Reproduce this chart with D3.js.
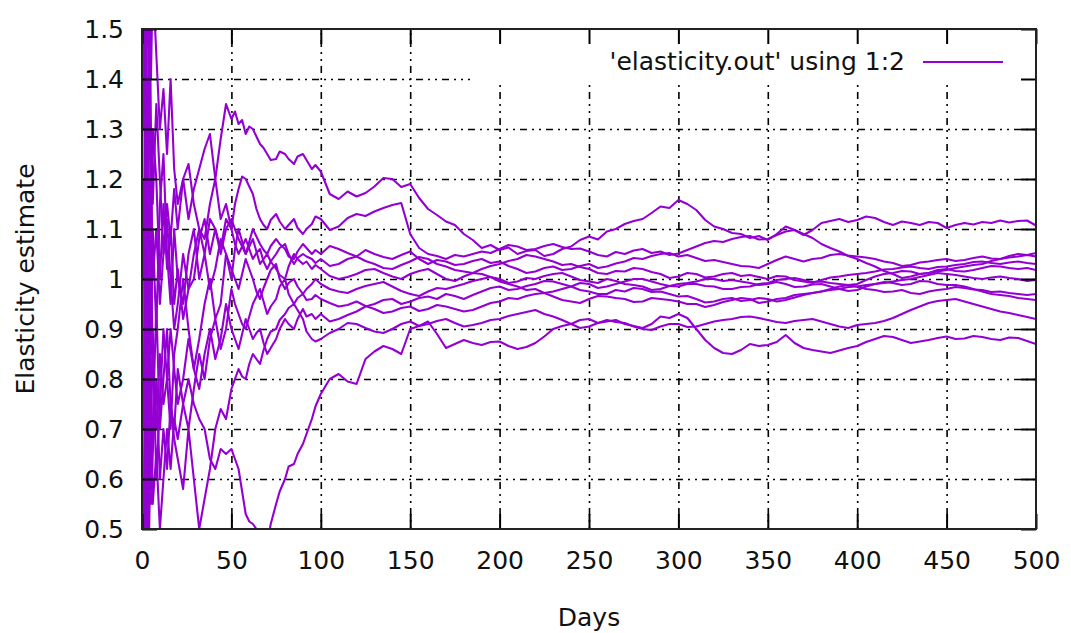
<!DOCTYPE html>
<html>
<head>
<meta charset="utf-8">
<script src="https://cdn.jsdelivr.net/npm/d3@7"></script>
<style>
  body { margin: 0; background: #fff; }
  svg text { font-family: "DejaVu Sans", Verdana, sans-serif; fill: #111; }
</style>
</head>
<body>
<div id="chart"></div>
<script>
// sample days (x) shared by every run
const days = [1, 2, 3, 4, 5, 6, 8, 10, 12, 14, 16, 18, 20, 23, 26, 29, 32, 35, 38, 41, 44, 47, 50,
  52, 54, 56, 58, 60, 62, 64, 66, 68, 70, 72, 75, 77, 80, 82, 85, 87, 90, 92, 95, 97,
  100, 105, 110, 115, 120, 125, 130, 135, 140,
  145, 150, 155, 160, 165, 170, 175, 180, 185,
  190, 195, 200, 205, 210, 215, 220, 225, 230,
  235, 240, 245, 250, 255, 260, 265, 270, 275,
  280, 285, 290, 295, 300, 305, 310, 315, 320,
  325, 330, 335, 340, 345, 350, 355, 360, 365,
  370, 375, 380, 385, 390, 395, 400, 405, 410,
  415, 420, 425, 430, 435, 440, 445, 450, 455,
  460, 465, 470, 475, 480, 485, 490, 495, 500];

// elasticity estimate of each run
const run1 = [1.9, 1.2, 1.6, 1.45, 1.05, 1.3, 1.2, 1.0, 1.15, 1.02, 1.1, 0.95, 1.02, 0.92, 0.98, 1.05, 1.1, 1.08, 1.15, 1.2, 1.28, 1.35, 1.32,
  1.335, 1.31, 1.318, 1.29, 1.305, 1.3, 1.285, 1.27, 1.262, 1.25, 1.238, 1.24, 1.255, 1.25, 1.24, 1.23, 1.245, 1.25, 1.238, 1.22, 1.228,
  1.215, 1.17, 1.16, 1.175, 1.165, 1.172, 1.185, 1.202, 1.2,
  1.184, 1.19, 1.162, 1.14, 1.128, 1.115, 1.108, 1.09, 1.078,
  1.062, 1.068, 1.058, 1.063, 1.05, 1.056, 1.058, 1.046, 1.05,
  1.06, 1.065, 1.078, 1.085, 1.079, 1.095, 1.1, 1.11, 1.116,
  1.12, 1.132, 1.145, 1.142, 1.158, 1.15, 1.138, 1.118, 1.105,
  1.1, 1.092, 1.09, 1.082, 1.086, 1.078, 1.09, 1.105, 1.098,
  1.088, 1.098, 1.112, 1.116, 1.12, 1.114, 1.118, 1.125, 1.122,
  1.114, 1.108, 1.115, 1.112, 1.108, 1.114, 1.112, 1.102, 1.108,
  1.112, 1.109, 1.114, 1.112, 1.117, 1.113, 1.116, 1.117, 1.107];
const run2 = [1.3, 1.75, 1.9, 1.55, 1.4, 1.6, 1.45, 1.3, 1.38, 1.25, 1.4, 1.22, 1.15, 1.2, 1.12, 1.18, 1.22, 1.26, 1.29, 1.2, 1.12, 1.15, 1.1,
  1.15, 1.18, 1.205, 1.2, 1.185, 1.17, 1.14, 1.12, 1.108, 1.1, 1.118, 1.13, 1.115, 1.1, 1.108, 1.12, 1.102, 1.09, 1.1, 1.11, 1.125,
  1.12, 1.098, 1.105, 1.122, 1.13, 1.126, 1.135, 1.142, 1.148,
  1.152, 1.09, 1.062, 1.05, 1.046, 1.04, 1.048, 1.045, 1.05,
  1.055, 1.052, 1.06, 1.068, 1.065, 1.058, 1.06, 1.066, 1.07,
  1.064, 1.06, 1.061, 1.055, 1.048, 1.045, 1.054, 1.05, 1.057,
  1.06, 1.052, 1.055, 1.048, 1.051, 1.058, 1.065, 1.072, 1.076,
  1.074, 1.08, 1.084, 1.086, 1.079, 1.08, 1.088, 1.095, 1.098,
  1.09, 1.082, 1.07, 1.062, 1.055, 1.046, 1.04, 1.032, 1.025,
  1.016, 1.01, 1.002, 1.005, 1.01, 1.012, 1.015, 1.018, 1.022,
  1.025, 1.028, 1.03, 1.036, 1.04, 1.046, 1.05, 1.048, 1.052];
const run3 = [0.7, 1.5, 1.1, 1.7, 1.3, 1.15, 1.35, 1.2, 1.05, 1.15, 1.08, 1.18, 1.1, 1.2, 1.23, 1.15, 1.1, 1.05, 1.12, 1.1, 1.05, 1.1, 1.12,
  1.1, 1.08, 1.065, 1.05, 1.075, 1.1, 1.085, 1.07, 1.058, 1.05, 1.066, 1.08, 1.07, 1.06, 1.045, 1.04, 1.055, 1.07, 1.062, 1.05, 1.058,
  1.05, 1.066, 1.06, 1.052, 1.045, 1.058, 1.05, 1.044, 1.04,
  1.048, 1.055, 1.04, 1.03, 1.038, 1.035, 1.028, 1.03, 1.036,
  1.04, 1.032, 1.035, 1.026, 1.02, 1.012, 1.015, 1.022, 1.025,
  1.018, 1.02, 1.026, 1.03, 1.022, 1.025, 1.031, 1.035, 1.042,
  1.04, 1.046, 1.05, 1.052, 1.045, 1.048, 1.042, 1.036, 1.038,
  1.034, 1.03, 1.026, 1.025, 1.022, 1.03, 1.038, 1.045, 1.04,
  1.035, 1.04, 1.042, 1.048, 1.05, 1.047, 1.045, 1.043, 1.04,
  1.035, 1.032, 1.026, 1.028, 1.033, 1.035, 1.038, 1.04, 1.036,
  1.038, 1.042, 1.045, 1.041, 1.04, 1.043, 1.045, 1.048, 1.045];
const run4 = [1.6, 0.8, 1.4, 0.9, 1.25, 1.0, 1.1, 0.95, 1.05, 1.12, 1.0, 0.9, 0.95, 1.05, 0.98, 1.0, 1.08, 1.12, 1.05, 1.1, 1.06, 1.12, 1.1,
  1.07, 1.05, 1.065, 1.08, 1.06, 1.04, 1.052, 1.06, 1.035, 1.02, 1.035, 1.05, 1.062, 1.07, 1.05, 1.03, 1.042, 1.05, 1.045, 1.04, 1.032,
  1.04, 1.026, 1.03, 1.04, 1.045, 1.036, 1.03, 1.022, 1.02,
  1.028, 1.035, 1.044, 1.04, 1.03, 1.025, 1.018, 1.015, 1.012,
  1.02, 1.026, 1.03, 1.036, 1.04, 1.048, 1.045, 1.04, 1.035,
  1.028, 1.03, 1.024, 1.02, 1.012, 1.01, 1.016, 1.015, 1.022,
  1.02, 1.014, 1.01, 1.002, 1.005, 1.012, 1.01, 1.003, 1.005,
  1.01, 1.012, 1.006, 1.008, 1.004, 1.0, 1.006, 1.005, 0.998,
  0.995, 0.992, 0.998, 1.003, 1.005, 1.008, 1.01, 1.012, 1.015,
  1.019, 1.02, 1.023, 1.025, 1.022, 1.02, 1.024, 1.025, 1.028,
  1.03, 1.034, 1.035, 1.032, 1.03, 1.033, 1.035, 1.032, 1.03];
const run5 = [0.4, 0.9, 0.6, 0.75, 1.1, 0.8, 0.7, 0.85, 0.75, 0.8, 0.9, 0.82, 0.75, 0.8, 0.88, 0.82, 0.78, 0.85, 0.9, 0.84, 0.88, 0.95, 0.9,
  0.88, 0.86, 0.89, 0.92, 0.9, 0.88, 0.892, 0.9, 0.872, 0.85, 0.862, 0.88, 0.9, 0.92, 0.91, 0.9, 0.92, 0.94, 0.925, 0.93, 0.92,
  0.93, 0.915, 0.92, 0.928, 0.935, 0.945, 0.95, 0.958, 0.96,
  0.95, 0.955, 0.962, 0.965, 0.96, 0.97, 0.966, 0.96, 0.968,
  0.975, 0.982, 0.985, 0.978, 0.98, 0.986, 0.99, 0.996, 0.995,
  0.99, 0.985, 0.978, 0.975, 0.97, 0.97, 0.978, 0.975, 0.982,
  0.98, 0.974, 0.975, 0.97, 0.965, 0.966, 0.96, 0.953, 0.955,
  0.96, 0.962, 0.956, 0.958, 0.962, 0.96, 0.955, 0.958, 0.963,
  0.968, 0.972, 0.975, 0.98, 0.985, 0.988, 0.99, 0.998, 1.005,
  1.01, 1.012, 1.016, 1.015, 1.01, 1.012, 1.018, 1.02, 1.016,
  1.015, 1.018, 1.022, 1.026, 1.025, 1.022, 1.02, 1.022, 1.018];
const run6 = [1.0, 1.4, 0.7, 1.2, 0.85, 1.1, 0.9, 1.15, 1.25, 1.05, 0.95, 1.1, 1.0, 0.95, 1.05, 1.1, 1.0, 1.05, 0.98, 1.02, 1.08, 1.05, 1.0,
  1.06, 1.1, 1.075, 1.05, 1.065, 1.08, 1.055, 1.03, 1.04, 1.05, 1.035, 1.02, 1.008, 1.0, 1.025, 1.05, 1.04, 1.03, 1.035, 1.02, 1.028,
  1.02, 1.006, 1.0, 1.004, 1.01, 1.018, 1.02, 1.012, 1.005,
  1.0, 1.01, 1.016, 1.02, 1.01, 1.0, 0.996, 1.005, 1.012,
  1.01, 1.004, 1.0, 0.992, 0.995, 1.002, 1.0, 1.006, 1.01,
  1.012, 1.005, 0.998, 0.995, 0.992, 1.0, 0.996, 0.99, 0.988,
  0.985, 0.978, 0.98, 0.986, 0.99, 0.992, 0.995, 1.0, 1.0,
  0.996, 0.998, 0.995, 0.992, 0.988, 0.99, 0.994, 0.99, 0.984,
  0.985, 0.989, 0.99, 0.985, 0.98, 0.976, 0.978, 0.985, 0.99,
  0.992, 0.995, 0.998, 1.0, 1.004, 1.008, 1.012, 1.01, 1.008,
  1.005, 1.002, 1.0, 1.003, 1.005, 1.002, 1.0, 0.996, 0.998];
const run7 = [0.2, 0.6, 1.0, 0.5, 0.7, 0.9, 0.6, 0.75, 0.9, 0.8, 0.7, 0.85, 0.9, 1.0, 0.9, 0.82, 0.88, 0.95, 1.0, 0.92, 0.95, 1.05, 1.02,
  1.0, 0.98, 1.01, 1.04, 1.02, 1.0, 0.975, 0.96, 0.982, 1.0, 1.018, 1.03, 1.0, 0.98, 0.992, 1.0, 0.985, 0.97, 0.98, 0.99, 1.0,
  0.99, 0.98, 0.975, 0.972, 0.98, 0.986, 0.99, 0.994, 0.985,
  0.976, 0.97, 0.966, 0.975, 0.982, 0.98, 0.985, 0.99, 0.996,
  1.0, 1.004, 0.995, 0.99, 0.985, 0.978, 0.98, 0.972, 0.975,
  0.98, 0.985, 0.992, 0.99, 0.982, 0.985, 0.99, 0.995, 1.0,
  1.0, 0.995, 0.99, 0.986, 0.985, 0.99, 0.99, 0.986, 0.985,
  0.98, 0.98, 0.984, 0.985, 0.99, 0.992, 0.998, 1.0, 1.002,
  0.998, 0.994, 0.995, 0.992, 0.99, 0.988, 0.985, 0.98, 0.978,
  0.974, 0.975, 0.978, 0.972, 0.97, 0.975, 0.978, 0.98, 0.984,
  0.982, 0.979, 0.978, 0.974, 0.975, 0.972, 0.97, 0.968, 0.97];
const run8 = [1.2, 0.5, 0.8, 1.1, 0.6, 0.7, 0.95, 0.7, 0.8, 0.9, 0.75, 0.7, 0.82, 0.75, 0.7, 0.78, 0.85, 0.8, 0.88, 0.92, 0.86, 0.9, 0.98,
  0.95, 0.93, 0.91, 0.9, 0.925, 0.95, 0.965, 0.98, 0.955, 0.93, 0.945, 0.96, 0.985, 1.0, 0.97, 0.95, 0.962, 0.97, 0.958, 0.96, 0.968,
  0.96, 0.952, 0.945, 0.948, 0.955, 0.946, 0.94, 0.932, 0.935,
  0.942, 0.945, 0.936, 0.94, 0.948, 0.945, 0.94, 0.935, 0.938,
  0.945, 0.952, 0.955, 0.962, 0.96, 0.966, 0.97, 0.972, 0.965,
  0.958, 0.955, 0.952, 0.96, 0.966, 0.965, 0.962, 0.96, 0.954,
  0.955, 0.962, 0.96, 0.958, 0.955, 0.95, 0.95, 0.944, 0.948,
  0.954, 0.958, 0.962, 0.96, 0.952, 0.955, 0.96, 0.962, 0.968,
  0.97, 0.972, 0.975, 0.978, 0.98, 0.984, 0.985, 0.988, 0.99,
  0.994, 0.992, 0.988, 0.99, 0.996, 0.995, 0.99, 0.988, 0.988,
  0.985, 0.98, 0.975, 0.97, 0.968, 0.966, 0.962, 0.96, 0.958];
const run9 = [0.5, 1.1, 0.3, 0.8, 0.55, 0.65, 0.8, 0.6, 0.7, 0.62, 0.75, 0.68, 0.64, 0.58, 0.7, 0.6, 0.5, 0.56, 0.62, 0.7, 0.74, 0.72, 0.78,
  0.8, 0.82, 0.805, 0.8, 0.83, 0.85, 0.84, 0.83, 0.858, 0.88, 0.895, 0.9, 0.918, 0.93, 0.942, 0.95, 0.938, 0.92, 0.895, 0.88, 0.875,
  0.88, 0.892, 0.9, 0.912, 0.91, 0.902, 0.895, 0.892, 0.9,
  0.91, 0.915, 0.906, 0.91, 0.916, 0.92, 0.912, 0.905, 0.908,
  0.912, 0.918, 0.92, 0.926, 0.93, 0.934, 0.938, 0.93, 0.925,
  0.918, 0.91, 0.902, 0.905, 0.912, 0.918, 0.914, 0.912, 0.905,
  0.9, 0.898, 0.905, 0.91, 0.91, 0.904, 0.905, 0.91, 0.915,
  0.918, 0.92, 0.924, 0.925, 0.922, 0.918, 0.914, 0.912, 0.916,
  0.918, 0.92, 0.915, 0.91, 0.905, 0.902, 0.908, 0.91, 0.912,
  0.916, 0.922, 0.93, 0.938, 0.945, 0.952, 0.956, 0.958, 0.96,
  0.955, 0.95, 0.945, 0.94, 0.935, 0.932, 0.928, 0.924, 0.92];
const run10 = [0.3, 0.7, 0.45, 0.6, 0.8, 0.55, 0.65, 0.5, 0.6, 0.7, 0.62, 0.72, 0.68, 0.75, 0.8, 0.75, 0.72, 0.7, 0.64, 0.62, 0.66, 0.65, 0.66,
  0.64, 0.62, 0.575, 0.53, 0.515, 0.51, 0.5, 0.49, 0.485, 0.47, 0.51, 0.55, 0.575, 0.6, 0.625, 0.63, 0.65, 0.67, 0.69, 0.72, 0.745,
  0.77, 0.8, 0.81, 0.795, 0.79, 0.84, 0.855, 0.866, 0.86,
  0.85, 0.9, 0.906, 0.915, 0.89, 0.862, 0.87, 0.878, 0.872,
  0.868, 0.874, 0.875, 0.866, 0.86, 0.864, 0.872, 0.885, 0.9,
  0.906, 0.91, 0.918, 0.92, 0.912, 0.915, 0.918, 0.91, 0.906,
  0.902, 0.91, 0.925, 0.922, 0.93, 0.922, 0.9, 0.878, 0.862,
  0.852, 0.85, 0.858, 0.87, 0.866, 0.868, 0.874, 0.888, 0.872,
  0.862, 0.858, 0.855, 0.852, 0.857, 0.862, 0.866, 0.874, 0.88,
  0.886, 0.884, 0.878, 0.872, 0.875, 0.878, 0.882, 0.885, 0.88,
  0.881, 0.886, 0.884, 0.88, 0.878, 0.883, 0.882, 0.876, 0.87];

const runs = [run1, run2, run3, run4, run5, run6, run7, run8, run9, run10];

const xTicks = [0, 50, 100, 150, 200, 250, 300, 350, 400, 450, 500];
const yTicks = [0.5, 0.6, 0.7, 0.8, 0.9, 1, 1.1, 1.2, 1.3, 1.4, 1.5];
const keyLabel = "'elasticity.out' using 1:2";

const width = 1071, height = 633;
const plotLeft = 142, plotRight = 1036, plotTop = 29, plotBottom = 529;
const lineColor = '#9400d3';

runs.forEach((r, i) => {
  if (r.length !== days.length) console.error('run' + (i + 1) + ' has ' + r.length + ' values');
});

const svg = d3.select('#chart').append('svg')
  .attr('width', width)
  .attr('height', height);

const x = d3.scaleLinear().domain([0, 500]).range([plotLeft, plotRight]);
const y = d3.scaleLinear().domain([0.5, 1.5]).range([plotBottom, plotTop]);

svg.append('defs').append('clipPath').attr('id', 'plot-clip')
  .append('rect')
  .attr('x', plotLeft).attr('y', plotTop)
  .attr('width', plotRight - plotLeft).attr('height', plotBottom - plotTop);

// dotted grid
const grid = svg.append('g').attr('class', 'grid');
grid.append('g')
  .attr('transform', `translate(0,${plotBottom})`)
  .call(d3.axisBottom(x).tickValues(xTicks.slice(1, -1)).tickSize(-(plotBottom - plotTop)).tickFormat(''));
grid.append('g')
  .attr('transform', `translate(${plotLeft},0)`)
  .call(d3.axisLeft(y).tickValues(yTicks.slice(1, -1)).tickSize(-(plotRight - plotLeft)).tickFormat(''));
grid.selectAll('.domain').remove();
grid.selectAll('line')
  .attr('stroke', '#000')
  .attr('stroke-width', 1.6)
  .attr('stroke-dasharray', '2,5,2,5,7,5');

// runs
const line = d3.line()
  .x((d, i) => x(days[i]))
  .y(d => y(d));

svg.append('g')
  .attr('clip-path', 'url(#plot-clip)')
  .selectAll('path')
  .data(runs)
  .join('path')
  .attr('d', line)
  .attr('fill', 'none')
  .attr('stroke', lineColor)
  .attr('stroke-width', 2.1)
  .attr('stroke-linejoin', 'round');

// opaque key box
svg.append('rect')
  .attr('x', 470).attr('y', plotTop + 1)
  .attr('width', plotRight - 470 - 1).attr('height', 51)
  .attr('fill', '#fff');

// axes with inward ticks on all four sides
const tickLen = 15;
const axes = svg.append('g').attr('class', 'axes');
axes.append('g')
  .attr('transform', `translate(0,${plotBottom})`)
  .call(d3.axisBottom(x).tickValues(xTicks).tickSize(-tickLen).tickPadding(22).tickFormat(d3.format('d')));
axes.append('g')
  .attr('transform', `translate(0,${plotTop})`)
  .call(d3.axisTop(x).tickValues(xTicks).tickSize(-tickLen).tickFormat(''));
axes.append('g')
  .attr('transform', `translate(${plotLeft},0)`)
  .call(d3.axisLeft(y).tickValues(yTicks).tickSize(-tickLen).tickPadding(18).tickFormat(d3.format('~g')));
axes.append('g')
  .attr('transform', `translate(${plotRight},0)`)
  .call(d3.axisRight(y).tickValues(yTicks).tickSize(-tickLen).tickFormat(''));
axes.selectAll('.domain').remove();
axes.selectAll('.tick line').attr('stroke', '#000').attr('stroke-width', 2);
axes.selectAll('.tick text')
  .attr('font-family', '"DejaVu Sans", Verdana, sans-serif')
  .attr('font-size', 25)
  .attr('fill', '#111');

svg.append('rect')
  .attr('x', plotLeft).attr('y', plotTop)
  .attr('width', plotRight - plotLeft).attr('height', plotBottom - plotTop)
  .attr('fill', 'none')
  .attr('stroke', '#222')
  .attr('stroke-width', 2);

// axis titles
svg.append('text')
  .attr('transform', `translate(34,${(plotTop + plotBottom) / 2}) rotate(-90)`)
  .attr('text-anchor', 'middle')
  .attr('font-size', 25)
  .text('Elasticity estimate');

svg.append('text')
  .attr('x', (plotLeft + plotRight) / 2)
  .attr('y', 626)
  .attr('text-anchor', 'middle')
  .attr('font-size', 25)
  .text('Days');

// key
svg.append('text')
  .attr('x', 905)
  .attr('y', 70)
  .attr('text-anchor', 'end')
  .attr('font-size', 25)
  .text(keyLabel);

svg.append('line')
  .attr('x1', 923).attr('x2', 1003)
  .attr('y1', 62).attr('y2', 62)
  .attr('stroke', lineColor)
  .attr('stroke-width', 2.1);
</script>
</body>
</html>
